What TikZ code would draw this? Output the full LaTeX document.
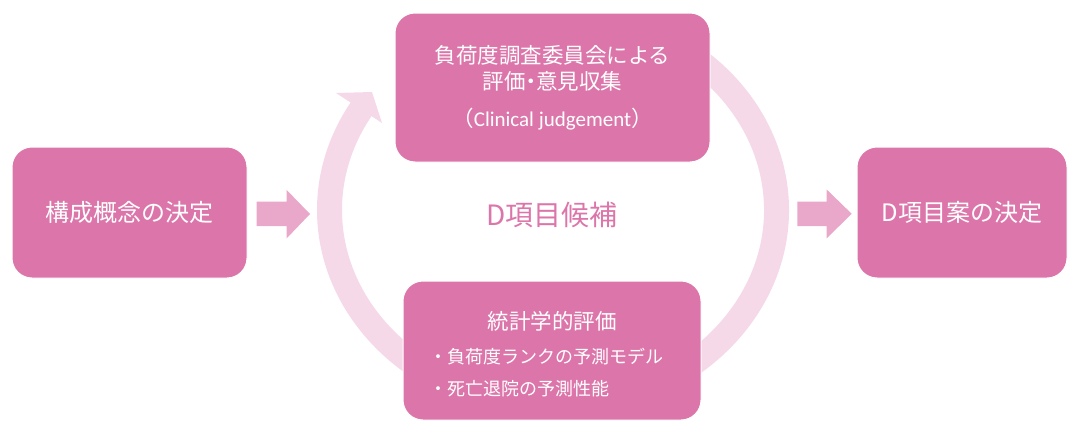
\documentclass[tikz,border=0pt]{standalone}
\usepackage{fontspec}
\newfontfamily\jp{Noto Sans CJK JP}
\newfontfamily\lat{Carlito}
\definecolor{boxpink}{HTML}{DC76AA}
\definecolor{ringpink}{HTML}{F5D9E8}
\definecolor{arrowpink}{HTML}{E9A8C9}
\begin{document}
\begin{tikzpicture}[x=1pt,y=-1pt,
  box/.style={draw=white, line width=1pt, fill=boxpink, rounded corners=20pt, inner sep=0pt, text=white},
  txt/.style={inner sep=0pt, text=white},
  ring/.style={draw=ringpink, line width=25pt},
  blk/.style={fill=arrowpink},
  big/.style={font=\jp\fontsize{24}{28}\selectfont},
  mid/.style={font=\jp\fontsize{21.5}{26.3}\selectfont},
  small/.style={font=\jp\fontsize{18}{22}\selectfont}]
\useasboundingbox (0,0) rectangle (1068,423);
% circular band
\coordinate (rs) at (664.75,39.83);
\draw[ring] (rs) arc[start angle=-60, end angle=211, x radius=223.5, y radius=196.5] coordinate (re);
\fill[ringpink] (336,93) coordinate (h1) -- (372,92) coordinate (ht) -- (382,123) coordinate (h2) -- cycle;
% boxes
\node[box, big, minimum width=235, minimum height=131] (L) at (129.5,212.5) {構成概念の決定};
\node[box, mid, minimum width=315, minimum height=149, align=center] (T) at (552.5,87.5)
  {負荷度調査委員会による\\評価{\addfontfeature{RawFeature=+palt}・}意見収集\\[10.7pt]（{\lat\fontsize{21}{26}\selectfont Clinical judgement}）};
\node[box, minimum width=298, minimum height=139] (B) at (552,350.5) {};
\node[txt, mid] (Bt) at (552,321.7) {統計学的評価};
\node[txt, small, anchor=west] (B1) at (429,356.7) {・負荷度ランクの予測モデル};
\node[txt, small, anchor=west] (B2) at (429,388.3) {・死亡退院の予測性能};
\node[box, big, minimum width=210, minimum height=131] (R) at (962,212.5) {D項目案の決定};
% centre label
\node[inner sep=0pt, text=boxpink, font=\jp\fontsize{28}{32}\selectfont] (C) at (552,215) {D項目候補};
% block arrows
\coordinate (a1) at (256.7,201.7);
\fill[blk] (a1) -- ++(30,0) -- ++(0,-11.7) -- ++(23.3,24) -- ++(-23.3,24.3) -- ++(0,-12.3) -- ++(-30,0) -- cycle;
\coordinate (a2) at (797.3,201.7);
\fill[blk] (a2) -- ++(29.4,0) -- ++(0,-12.2) -- ++(25,24.3) -- ++(-25,24.5) -- ++(0,-12.3) -- ++(-29.4,0) -- cycle;
\end{tikzpicture}
\end{document}
